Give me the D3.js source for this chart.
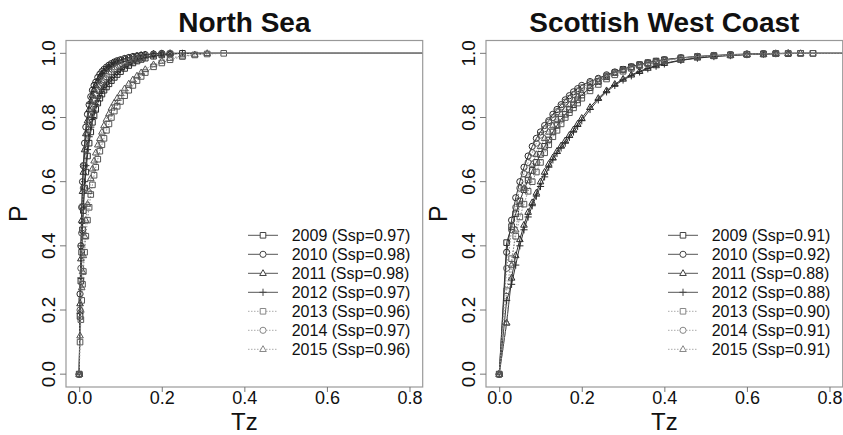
<!DOCTYPE html>
<html>
<head>
<meta charset="utf-8">
<script src="https://cdn.jsdelivr.net/npm/d3@7/dist/d3.min.js"></script>
<style>
  body { margin: 0; background: #fff; }
  svg { display: block; font-family: "Liberation Sans", Arial, sans-serif; }
</style>
</head>
<body>
<div id="chart"></div>
<script>
// --- data ---------------------------------------------------------------
var years   = ["2009", "2010", "2011", "2012", "2013", "2014", "2015"];
var symbols = ["square", "circle", "triangle", "plus", "square", "circle", "triangle"];
var dotted  = [false, false, false, false, true, true, true];

var xTicks = [0, 0.2, 0.4, 0.6, 0.8];
var yTicks = [0, 0.2, 0.4, 0.6, 0.8, 1.0];

// North Sea
var nsTz = [0, 0.002, 0.004, 0.006, 0.008, 0.010, 0.013, 0.016, 0.020, 0.024, 0.028, 0.032, 0.036, 0.040,
            0.045, 0.050, 0.055, 0.060, 0.066, 0.072, 0.078, 0.085, 0.092, 0.10, 0.11, 0.12, 0.13, 0.14,
            0.15, 0.16, 0.18, 0.20, 0.22, 0.25, 0.28, 0.31, 0.35];
var ns2009 = [0,.18,.29,.38,.45,.51,.58,.63,.68,.72,.755,.785,.805,.825,.845,.86,.873,.885,.895,.905,.915,.925,.934,.943,.953,.962,.97,.976,.981,.985,.991,.995,.998,1.0];
var ns2010 = [0,.25,.40,.52,.60,.65,.72,.77,.81,.84,.865,.885,.90,.91,.925,.935,.943,.95,.957,.963,.968,.973,.977,.98,.984,.987,.99,.992,.994,.996,.998,1.0];
var ns2011 = [0,.22,.36,.48,.57,.63,.70,.75,.79,.825,.85,.87,.888,.90,.915,.927,.936,.944,.952,.958,.964,.97,.974,.978,.982,.986,.989,.992,.994,.996,.998,.999,1.0];
var ns2012 = [0,.19,.30,.40,.47,.53,.60,.65,.70,.74,.77,.80,.82,.84,.86,.875,.887,.898,.908,.917,.925,.934,.942,.95,.958,.966,.973,.979,.984,.988,.993,.996,.998,1.0];
var ns2013 = [0,.10,.17,.23,.28,.32,.38,.43,.48,.52,.56,.59,.62,.645,.67,.695,.715,.735,.76,.78,.80,.82,.835,.85,.868,.885,.90,.915,.928,.94,.958,.97,.98,.99,.995,.998,1.0];
var ns2014 = [0,.20,.33,.44,.52,.58,.65,.70,.745,.78,.81,.835,.855,.87,.885,.898,.908,.918,.927,.935,.942,.95,.957,.963,.97,.976,.981,.985,.988,.991,.995,.998,1.0];
var ns2015 = [0,.12,.20,.27,.32,.37,.43,.48,.53,.57,.61,.64,.665,.69,.715,.735,.755,.775,.795,.812,.83,.846,.86,.875,.89,.905,.918,.93,.94,.95,.965,.976,.985,.992,.996,1.0];
var nsSsp  = [0.97, 0.98, 0.98, 0.97, 0.96, 0.97, 0.96];

// Scottish West Coast
var swTz = [0, 0.018, 0.03, 0.04, 0.05, 0.06, 0.07, 0.08, 0.09, 0.10, 0.11, 0.12, 0.13, 0.14, 0.15, 0.16,
            0.17, 0.18, 0.19, 0.20, 0.22, 0.24, 0.26, 0.28, 0.30, 0.32, 0.34, 0.36, 0.38, 0.40, 0.44, 0.48,
            0.52, 0.56, 0.60, 0.64, 0.67, 0.70, 0.73, 0.76];
var sw2009 = [0,.41,.46,.50,.54,.575,.605,.635,.66,.685,.71,.73,.755,.775,.795,.81,.825,.84,.855,.87,.893,.912,.927,.94,.95,.958,.965,.971,.976,.98,.986,.99,.993,.995,.997,.998,.999,.999,1.0,1.0];
var sw2010 = [0,.38,.48,.55,.60,.645,.68,.71,.735,.755,.775,.79,.81,.825,.84,.855,.868,.88,.89,.90,.912,.922,.933,.942,.95,.958,.964,.97,.975,.98,.986,.99,.993,.996,.998,.999,1.0];
var sw2011 = [0,.16,.30,.37,.42,.465,.505,.535,.565,.60,.63,.655,.675,.695,.712,.728,.745,.762,.78,.798,.832,.86,.884,.904,.92,.933,.944,.954,.962,.969,.979,.986,.991,.994,.996,.998,.999,1.0];
var sw2012 = [0,.23,.28,.34,.40,.45,.49,.525,.555,.585,.615,.645,.668,.688,.705,.72,.738,.755,.772,.79,.825,.855,.88,.90,.917,.93,.942,.952,.96,.967,.978,.985,.99,.993,.996,.998,.999,1.0];
var sw2013 = [0,.26,.36,.43,.49,.53,.57,.60,.63,.66,.69,.715,.74,.76,.78,.80,.815,.83,.845,.86,.883,.903,.92,.933,.944,.953,.961,.967,.972,.977,.984,.989,.992,.995,.997,.998,.999,1.0,1.0,1.0];
var sw2014 = [0,.33,.45,.52,.58,.625,.66,.69,.72,.745,.765,.785,.80,.818,.833,.848,.86,.872,.883,.893,.908,.92,.93,.94,.948,.956,.963,.969,.974,.978,.985,.99,.993,.995,.997,.999,1.0];
var sw2015 = [0,.16,.34,.45,.53,.58,.62,.655,.685,.71,.735,.755,.775,.795,.81,.825,.84,.853,.865,.877,.897,.913,.927,.938,.948,.956,.963,.969,.974,.978,.985,.99,.993,.995,.997,.998,.999,1.0,1.0];
var swSsp  = [0.91, 0.92, 0.88, 0.88, 0.90, 0.91, 0.91];

// --- layout ---------------------------------------------------------------
var width = 843, height = 435;
var pw = 356.7, ph = 346.5;

var svg = d3.select("#chart").append("svg")
    .attr("width", width)
    .attr("height", height);

function marker(type) {
  switch (type) {
    case "square":   return "M-2.8,-2.8H2.8V2.8H-2.8Z";
    case "circle":   return "M3.1,0A3.1,3.1 0 1,1 -3.1,0A3.1,3.1 0 1,1 3.1,0Z";
    case "triangle": return "M0,-3.6L3.3,2.2H-3.3Z";
    default:         return "M-3.6,0H3.6M0,-3.6V3.6";
  }
}

function lineColor(i) { return dotted[i] ? "#8a8a8a" : "#333"; }
function markColor(i) { return dotted[i] ? "#555" : "#2a2a2a"; }

function drawPanel(left, id, title, tz, series, ssp) {
  var g = svg.append("g").attr("transform", "translate(" + left + ",40.5)");

  var x = d3.scaleLinear().domain([-0.032, 0.832]).range([0, pw]);
  var y = d3.scaleLinear().domain([-0.04, 1.04]).range([ph, 0]);

  g.append("clipPath").attr("id", id)
    .append("rect").attr("width", pw).attr("height", ph);

  var plot = g.append("g").attr("clip-path", "url(#" + id + ")");

  var line = d3.line()
      .x(function(d) { return x(d[0]); })
      .y(function(d) { return y(d[1]); });

  series.forEach(function(p, i) {
    var pts = p.map(function(v, k) { return [tz[k], v]; });
    var last = pts[pts.length - 1];
    var path = pts.concat([[x.domain()[1], last[1]]]);

    plot.append("path")
      .attr("d", line(path))
      .attr("fill", "none")
      .attr("stroke", lineColor(i))
      .attr("stroke-width", 1)
      .attr("stroke-dasharray", dotted[i] ? "1.5,1.5" : null);

    plot.selectAll(".m" + i)
      .data(pts)
      .enter().append("path")
      .attr("class", "m" + i)
      .attr("transform", function(d) { return "translate(" + x(d[0]) + "," + y(d[1]) + ")"; })
      .attr("d", marker(symbols[i]))
      .attr("fill", "none")
      .attr("stroke", markColor(i))
      .attr("stroke-width", 1);
  });

  // frame
  g.append("rect")
    .attr("width", pw).attr("height", ph)
    .attr("fill", "none").attr("stroke", "#999").attr("stroke-width", 1.2);

  // x axis
  var xa = g.append("g")
      .attr("transform", "translate(0," + ph + ")")
      .call(d3.axisBottom(x).tickValues(xTicks).tickFormat(d3.format(".1f")).tickSize(5).tickPadding(-1));
  xa.select(".domain").remove();
  xa.selectAll("line").attr("stroke", "#777");
  xa.selectAll("text").attr("font-size", 18).attr("fill", "#111")
    .attr("font-family", "Liberation Sans, Arial, sans-serif");

  // y axis (R style, rotated labels)
  g.selectAll(".ytick").data(yTicks).enter().append("line")
    .attr("x1", -6).attr("x2", 0)
    .attr("y1", function(d) { return y(d); }).attr("y2", function(d) { return y(d); })
    .attr("stroke", "#777");
  g.selectAll(".ylab").data(yTicks).enter().append("text")
    .attr("transform", function(d) { return "translate(-11," + y(d) + ") rotate(-90)"; })
    .attr("text-anchor", "middle")
    .attr("font-size", 19).attr("fill", "#111")
    .text(d3.format(".1f"));

  // titles
  g.append("text")
    .attr("x", pw / 2).attr("y", -8.8)
    .attr("text-anchor", "middle")
    .attr("font-size", 28).attr("font-weight", "bold").attr("fill", "#111")
    .text(title);
  g.append("text")
    .attr("x", pw / 2).attr("y", 389)
    .attr("text-anchor", "middle")
    .attr("font-size", 24).attr("fill", "#111")
    .text("Tz");
  g.append("text")
    .attr("transform", "translate(-39.3," + (ph / 2) + ") rotate(-90)")
    .attr("text-anchor", "middle")
    .attr("font-size", 25).attr("fill", "#111")
    .text("P");

  // legend
  var lg = g.append("g").attr("transform", "translate(182,194.8)");
  years.forEach(function(yr, i) {
    var row = lg.append("g").attr("transform", "translate(0," + (i * 19) + ")");
    row.append("line")
      .attr("x1", 0).attr("x2", 30)
      .attr("stroke", dotted[i] ? "#aaa" : "#555")
      .attr("stroke-dasharray", dotted[i] ? "1.5,1.5" : null);
    row.append("path")
      .attr("transform", "translate(15,0)")
      .attr("d", marker(symbols[i]))
      .attr("fill", "#fff")
      .attr("stroke", dotted[i] ? "#888" : "#444");
    row.append("text")
      .attr("x", 43.7).attr("y", 6)
      .attr("font-size", 16).attr("fill", "#111")
      .text(yr + " (Ssp=" + ssp[i].toFixed(2) + ")");
  });
}

drawPanel(66, "clipNS", "North Sea", nsTz,
  [ns2009, ns2010, ns2011, ns2012, ns2013, ns2014, ns2015], nsSsp);
drawPanel(486, "clipSW", "Scottish West Coast", swTz,
  [sw2009, sw2010, sw2011, sw2012, sw2013, sw2014, sw2015], swSsp);
</script>
</body>
</html>
